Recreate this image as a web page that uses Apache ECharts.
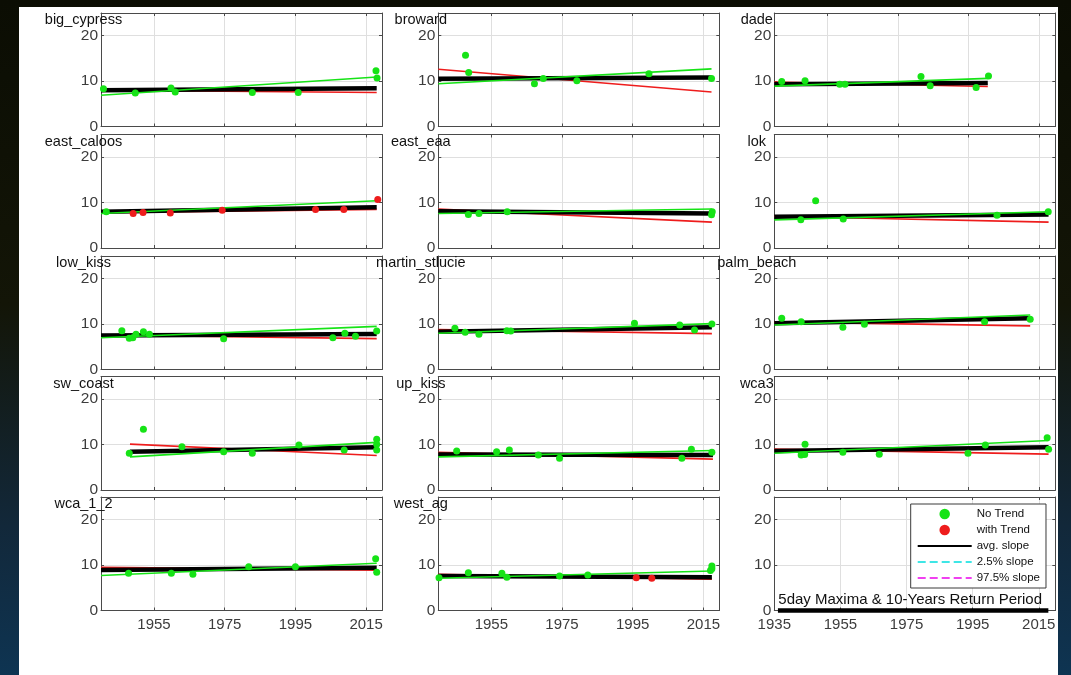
<!DOCTYPE html>
<html><head><meta charset="utf-8">
<script src="https://cdn.jsdelivr.net/npm/echarts@6/dist/echarts.min.js"></script>
<style>
html,body{margin:0;padding:0;width:1071px;height:675px;overflow:hidden;}
body{background:linear-gradient(to bottom,#0b0d03 0%,#131507 45%,#12283a 78%,#0e3452 100%);}
#paper{position:absolute;left:19px;top:7px;width:1039px;height:668px;background:#ffffff;}
#chart{position:absolute;left:0;top:0;width:1071px;height:675px;}
</style></head><body><div id="paper"></div><div id="chart"></div>
<script>
// ---------------- DATA ----------------
const panelTitles = ['big_cypress','broward','dade','east_caloos','east_eaa','lok','low_kiss','martin_stlucie','palm_beach','sw_coast','up_kiss','wca3','wca_1_2','west_ag'];
const xTickYears = [1955, 1975, 1995, 2015];
const xTickYearsLegend = [1935, 1955, 1975, 1995, 2015];
const yTickValues = [0, 10, 20];

const big_cypress_noTrend = [[1940.7,8.3],[1949.7,7.4],[1959.8,8.5],[1961,7.6],[1982.8,7.5],[1995.8,7.5],[2017.8,12.3],[2018.1,10.7]];
const big_cypress_withTrend = [];
const big_cypress_avg = [[1940,8.0],[2018,8.4]];
const big_cypress_red = [[1940,8.0],[2018,7.5]];
const big_cypress_green = [[1940,6.9],[2018,10.9]];

const broward_noTrend = [[1947.7,15.7],[1948.6,11.9],[1967.2,9.4],[1969.7,10.6],[1979.2,10.1],[1999.6,11.6],[2017.3,10.6]];
const broward_withTrend = [];
const broward_avg = [[1940,10.5],[2017.3,10.8]];
const broward_red = [[1940,12.6],[2017.3,7.6]];
const broward_green = [[1940,9.4],[2017.3,12.7]];

const dade_noTrend = [[1942.1,9.9],[1948.7,10.1],[1958.5,9.3],[1960,9.3],[1981.5,11.0],[1984.1,9.0],[1997.1,8.6],[2000.6,11.1]];
const dade_withTrend = [];
const dade_avg = [[1940,9.3],[2000.4,9.6]];
const dade_red = [[1940,9.8],[2000.4,8.8]];
const dade_green = [[1940,8.9],[2000.4,10.6]];

const east_caloos_noTrend = [[1941.5,8.0]];
const east_caloos_withTrend = [[1949.1,7.6],[1951.9,7.8],[1959.6,7.7],[1974.3,8.3],[2000.7,8.5],[2008.7,8.5],[2018.3,10.7]];
const east_caloos_avg = [[1940,8.0],[2018,9.0]];
const east_caloos_red = [[1940,7.8],[2018,8.5]];
const east_caloos_green = [[1940,7.6],[2018,10.4]];

const east_eaa_noTrend = [[1948.5,7.4],[1951.5,7.6],[1959.5,8.0],[2017.3,7.3],[2017.5,8.0]];
const east_eaa_withTrend = [];
const east_eaa_avg = [[1940,8.1],[2017.4,7.6]];
const east_eaa_red = [[1940,8.6],[2017.4,5.7]];
const east_eaa_green = [[1940,7.6],[2017.4,8.6]];

const lok_noTrend = [[1947.5,6.2],[1951.7,10.4],[1959.5,6.4],[2003,7.2],[2017.5,8.0]];
const lok_withTrend = [];
const lok_avg = [[1940,6.9],[2017.6,7.4]];
const lok_red = [[1940,7.0],[2017.6,5.7]];
const lok_green = [[1940,6.2],[2017.6,8.0]];

const low_kiss_noTrend = [[1945.9,8.55],[1948,6.9],[1949,7.0],[1949.9,7.75],[1952,8.3],[1953.7,7.75],[1974.7,6.8],[2005.6,7.0],[2009,8.0],[2012,7.3],[2018,8.5]];
const low_kiss_withTrend = [];
const low_kiss_avg = [[1940,7.5],[2018,7.8]];
const low_kiss_red = [[1940,7.6],[2018,6.8]];
const low_kiss_green = [[1940,7.0],[2018,9.5]];

const martin_stlucie_noTrend = [[1944.7,9.1],[1947.6,8.2],[1951.5,7.75],[1959.4,8.55],[1960.5,8.5],[1995.5,10.2],[2008.3,9.8],[2012.5,8.7],[2017.4,10.0]];
const martin_stlucie_withTrend = [];
const martin_stlucie_avg = [[1940,8.3],[2017.4,9.3]];
const martin_stlucie_red = [[1940,8.8],[2017.4,7.9]];
const martin_stlucie_green = [[1940,8.0],[2017.4,10.1]];

const palm_beach_noTrend = [[1942.1,11.3],[1947.6,10.5],[1959.4,9.3],[1965.5,9.95],[1999.5,10.5],[2012.4,11.05]];
const palm_beach_withTrend = [];
const palm_beach_avg = [[1940,10.2],[2012.4,11.3]];
const palm_beach_red = [[1940,10.5],[2012.4,9.6]];
const palm_beach_green = [[1940,9.8],[2012.4,12.0]];

const sw_coast_noTrend = [[1948,8.1],[1952,13.4],[1962.9,9.5],[1974.7,8.4],[1982.8,8.1],[1996,9.9],[2008.8,8.8],[2018,11.2],[2018,10.1],[2018,8.8]];
const sw_coast_withTrend = [];
const sw_coast_avg = [[1948.2,8.4],[2018,9.4]];
const sw_coast_red = [[1948.2,10.1],[2018,7.6]];
const sw_coast_green = [[1948.2,7.3],[2018,10.5]];

const up_kiss_noTrend = [[1945.2,8.6],[1956.5,8.4],[1960.1,8.8],[1968.3,7.7],[1974.3,7.0],[2008.9,7.0],[2011.6,9.0],[2017.4,8.3]];
const up_kiss_withTrend = [];
const up_kiss_avg = [[1940,7.8],[2017.7,7.7]];
const up_kiss_red = [[1940,8.3],[2017.7,6.8]];
const up_kiss_green = [[1940,7.3],[2017.7,8.7]];

const wca3_noTrend = [[1947.6,7.7],[1948.6,7.8],[1948.7,10.05],[1959.4,8.3],[1969.7,7.85],[1994.8,8.1],[1999.7,9.9],[2017.2,11.5],[2017.6,8.95]];
const wca3_withTrend = [];
const wca3_avg = [[1940,8.6],[2017.6,9.4]];
const wca3_red = [[1940,9.0],[2017.6,7.9]];
const wca3_green = [[1940,8.1],[2017.6,10.9]];

const wca_1_2_noTrend = [[1947.8,8.2],[1959.9,8.2],[1966,8.0],[1981.8,9.65],[1995,9.65],[2017.7,11.4],[2018,8.4]];
const wca_1_2_withTrend = [];
const wca_1_2_avg = [[1940,8.9],[2018,9.4]];
const wca_1_2_red = [[1940,9.5],[2018,8.9]];
const wca_1_2_green = [[1940,7.7],[2018,10.4]];

const west_ag_noTrend = [[1940.2,7.2],[1948.5,8.3],[1958,8.2],[1959.4,7.3],[1974.3,7.6],[1982.3,7.8],[2017,8.8],[2017.4,9.2],[2017.4,9.8]];
const west_ag_withTrend = [[1996,7.2],[2000.4,7.1]];
const west_ag_avg = [[1940,7.6],[2017.4,7.3]];
const west_ag_red = [[1940,8.0],[2017.4,6.9]];
const west_ag_green = [[1940,7.1],[2017.4,8.7]];

const legendAvgLine = [[1936.1,0],[2017.9,0]];
const captionText = '5day Maxima & 10-Years Return Period';

const noTrendSets = [big_cypress_noTrend,broward_noTrend,dade_noTrend,east_caloos_noTrend,east_eaa_noTrend,lok_noTrend,low_kiss_noTrend,martin_stlucie_noTrend,palm_beach_noTrend,sw_coast_noTrend,up_kiss_noTrend,wca3_noTrend,wca_1_2_noTrend,west_ag_noTrend];
const withTrendSets = [big_cypress_withTrend,broward_withTrend,dade_withTrend,east_caloos_withTrend,east_eaa_withTrend,lok_withTrend,low_kiss_withTrend,martin_stlucie_withTrend,palm_beach_withTrend,sw_coast_withTrend,up_kiss_withTrend,wca3_withTrend,wca_1_2_withTrend,west_ag_withTrend];
const avgSets = [big_cypress_avg,broward_avg,dade_avg,east_caloos_avg,east_eaa_avg,lok_avg,low_kiss_avg,martin_stlucie_avg,palm_beach_avg,sw_coast_avg,up_kiss_avg,wca3_avg,wca_1_2_avg,west_ag_avg];
const redSets = [big_cypress_red,broward_red,dade_red,east_caloos_red,east_eaa_red,lok_red,low_kiss_red,martin_stlucie_red,palm_beach_red,sw_coast_red,up_kiss_red,wca3_red,wca_1_2_red,west_ag_red];
const greenSets = [big_cypress_green,broward_green,dade_green,east_caloos_green,east_eaa_green,lok_green,low_kiss_green,martin_stlucie_green,palm_beach_green,sw_coast_green,up_kiss_green,wca3_green,wca_1_2_green,west_ag_green];

// ---------------- LAYOUT ----------------
const colLeft = [101, 438.3, 774.3];
const rowTop = [13, 134.5, 256, 376.5, 497];
const W = 281, H = 113.5;
const FONT = '"Liberation Sans", Arial, Helvetica, sans-serif';
const GREEN = '#16e316', RED = '#ee1c1c', FRAME = '#4a4a4a', GRID = '#dfdfdf', TICKTXT = '#3c3c3c';
const CYAN = '#3ee6e6', MAGENTA = '#f040f0';

const grids = [], xAxes = [], yAxes = [], series = [], graphics = [];
for (let g = 0; g < 15; g++) {
  const col = g % 3, row = Math.floor(g / 3);
  const isLegend = g === 14;
  grids.push({left: colLeft[col], top: rowTop[row], width: W, height: H, containLabel: false});
  const xmin = isLegend ? 1935 : 1940, xmax = isLegend ? 2020 : 2019.5;
  const xt = isLegend ? xTickYearsLegend : xTickYears;
  const showX = row === 4;
  xAxes.push({type: 'value', gridIndex: g, min: xmin, max: xmax, position: 'bottom',
    axisLine: {show: true, onZero: false, lineStyle: {color: FRAME, width: 1}},
    axisTick: {show: true, inside: true, length: 3, customValues: xt, lineStyle: {color: FRAME}},
    axisLabel: {show: showX, customValues: xt, color: TICKTXT, fontSize: 15, fontFamily: FONT, margin: 7, formatter: v => String(v)},
    splitLine: {show: true, lineStyle: {color: GRID, width: 1}}});
  xAxes.push({type: 'value', gridIndex: g, min: xmin, max: xmax, position: 'top',
    axisLine: {show: true, onZero: false, lineStyle: {color: FRAME, width: 1}},
    axisTick: {show: true, inside: true, length: 3, customValues: xt, lineStyle: {color: FRAME}},
    axisLabel: {show: false}, splitLine: {show: false}});
  yAxes.push({type: 'value', gridIndex: g, min: 0, max: 25, interval: 10, position: 'left',
    axisLine: {show: true, onZero: false, lineStyle: {color: FRAME, width: 1}},
    axisTick: {show: true, inside: true, length: 3, customValues: yTickValues, lineStyle: {color: FRAME}},
    axisLabel: {show: true, customValues: yTickValues, color: TICKTXT, fontSize: 15.5, fontFamily: FONT, margin: 3, formatter: v => String(v)},
    splitLine: {show: true, lineStyle: {color: GRID, width: 1}}});
  yAxes.push({type: 'value', gridIndex: g, min: 0, max: 25, interval: 10, position: 'right',
    axisLine: {show: true, onZero: false, lineStyle: {color: FRAME, width: 1}},
    axisTick: {show: true, inside: true, length: 3, customValues: yTickValues, lineStyle: {color: FRAME}},
    axisLabel: {show: false}, splitLine: {show: false}});

  const ax = {xAxisIndex: 2 * g, yAxisIndex: 2 * g};
  if (!isLegend) {
    series.push(Object.assign({type: 'line', name: 'lower trend', data: redSets[g], symbol: 'none', lineStyle: {color: RED, width: 1.6}, z: 2, silent: true}, ax));
    series.push(Object.assign({type: 'line', name: 'avg. slope', data: avgSets[g], symbol: 'none', itemStyle: {color: '#000'}, lineStyle: {color: '#000', width: 4.5}, z: 3, silent: true}, ax));
    series.push(Object.assign({type: 'line', name: 'upper trend', data: greenSets[g], symbol: 'none', lineStyle: {color: GREEN, width: 1.6}, z: 4, silent: true}, ax));
    series.push(Object.assign({type: 'scatter', name: 'No Trend', data: noTrendSets[g], symbol: 'circle', symbolSize: 7, itemStyle: {color: GREEN, opacity: 1}, z: 5, clip: false, silent: true}, ax));
    series.push(Object.assign({type: 'scatter', name: 'with Trend', data: withTrendSets[g], symbol: 'circle', symbolSize: 7, itemStyle: {color: RED, opacity: 1}, z: 6, clip: false, silent: true}, ax));
    graphics.push({type: 'text', x: colLeft[col] - 17.5, y: rowTop[row] + 7.3, z: 100,
      style: {text: panelTitles[g], fontSize: 14.5, fontFamily: FONT, fill: '#111', align: 'center', verticalAlign: 'middle'}});
  } else {
    series.push(Object.assign({type: 'line', name: 'avg. slope', data: legendAvgLine, symbol: 'none', itemStyle: {color: '#000'}, lineStyle: {color: '#000', width: 4.5}, z: 3, clip: false, silent: true}, ax));
    series.push(Object.assign({type: 'line', name: '2.5% slope', data: [], symbol: 'none', itemStyle: {color: CYAN}, lineStyle: {color: CYAN, width: 2, type: 'dashed'}}, ax));
    series.push(Object.assign({type: 'line', name: '97.5% slope', data: [], symbol: 'none', itemStyle: {color: MAGENTA}, lineStyle: {color: MAGENTA, width: 2, type: 'dashed'}}, ax));
    graphics.push({type: 'text', x: 778.3, y: 600, z: 100,
      style: {text: captionText, fontSize: 15, fontFamily: FONT, fill: '#111', align: 'left', verticalAlign: 'middle'}});
  }
}

const hideSym = {opacity: 0, color: 'rgba(0,0,0,0)', borderWidth: 0};
const chart = echarts.init(document.getElementById('chart'), null, {renderer: 'canvas'});
chart.setOption({
  animation: false,
  backgroundColor: 'transparent',
  grid: grids, xAxis: xAxes, yAxis: yAxes, series: series,
  graphic: graphics,
  legend: {orient: 'vertical', left: 910.7, top: 504, padding: [4, 6, 4, 6],
    itemWidth: 54, itemHeight: 10.5, itemGap: 4, backgroundColor: '#fff',
    borderColor: '#3a3a3a', borderWidth: 1, selectedMode: false, z: 50,
    textStyle: {fontSize: 11.5, color: '#111', fontFamily: FONT, lineHeight: 12},
    data: [{name: 'No Trend', icon: 'circle'}, {name: 'with Trend', icon: 'circle'},
      {name: 'avg. slope', lineStyle: {width: 2}, itemStyle: hideSym},
      {name: '2.5% slope', itemStyle: hideSym},
      {name: '97.5% slope', itemStyle: hideSym}]}
});
</script></body></html>
